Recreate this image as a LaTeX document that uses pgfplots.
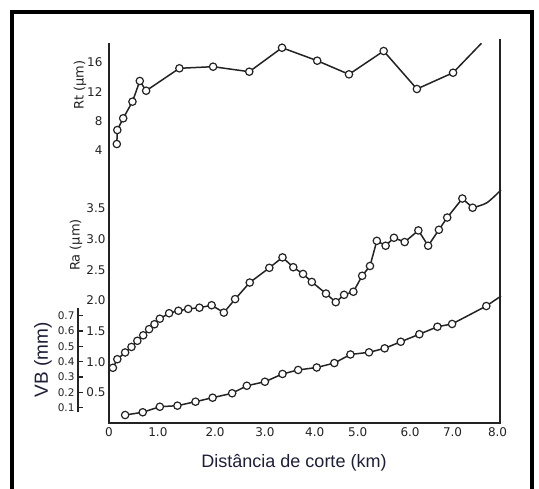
\documentclass[border=0pt]{standalone}
\usepackage{pgfplots}
\pgfplotsset{compat=1.18}
\usepackage{fontspec}
\setmainfont{DejaVu Sans}
\newfontfamily\arial{Liberation Sans}
\definecolor{ink}{RGB}{35,35,35}
\definecolor{navy}{RGB}{30,30,55}

\pgfplotsset{
  layer/.style={at={(109pt,66pt)}, anchor=south west, scale only axis,
    width=391pt, height=380pt, xmin=0, xmax=8, clip=false,
    axis line style={draw=none}, major tick length=0pt, xtick=\empty,
    ticklabel style={font=\fontsize{12}{14}\selectfont, text=ink}},
  series/.style={ink, line width=1.5pt, mark=*, mark size=3.7pt,
    mark options={fill=white, draw=ink, line width=1.2pt, solid}},
  tail/.style={ink, line width=1.5pt, no marks},
}

\begin{document}
\begin{tikzpicture}
\path (0,0) rectangle (539pt,489pt);
% moldura
\draw[line width=4pt, black] (12pt,-4pt) -- (12pt,477pt) -- (532pt,477pt) -- (532pt,-4pt);

% eixo principal (distancia)
\begin{axis}[layer, ymin=0, ymax=1, ytick=\empty,
  xtick={0,1.00,2.17,3.19,4.21,5.09,6.16,7.03,7.95},
  xticklabels={0,1.0,2.0,3.0,4.0,5.0,6.0,7.0,8.0},
  xticklabel style={yshift=-1pt}]
\draw[ink, line width=2pt] (rel axis cs:0,1) -- (rel axis cs:0,0) -- (rel axis cs:1,0) -- (rel axis cs:1,1.01);
\end{axis}

% Rt
\begin{axis}[layer, ymin=-33.45, ymax=18.68, ytick={4,8,12,16},
  yticklabels={4,8,12,16}, yticklabel style={xshift=-3pt}]
\addplot[tail] coordinates {(7.04,14.60) (7.62,18.64)};
\addplot[series] coordinates {
  (0.16,4.82) (0.17,6.74) (0.29,8.35) (0.48,10.63) (0.63,13.47) (0.76,12.13)
  (1.44,15.21) (2.13,15.43) (2.87,14.74) (3.54,18.03) (4.26,16.25) (4.91,14.38)
  (5.62,17.58) (6.30,12.37) (7.04,14.60)
};
\end{axis}

% Ra
\begin{axis}[layer, ymin=0, ymax=6.196, ytick={0.5,1,1.5,2,2.5,3,3.5},
  yticklabels={0.5,1.0,1.5,2.0,2.5,3.0,3.5}, yticklabel style={xshift=0pt}]
\addplot[tail, smooth] coordinates {(7.44,3.51) (7.73,3.59) (8.02,3.80)};
\addplot[series] coordinates {
  (0.08,0.90) (0.17,1.04) (0.33,1.15) (0.46,1.24) (0.58,1.34) (0.70,1.43)
  (0.82,1.53) (0.93,1.61) (1.04,1.70) (1.23,1.79) (1.42,1.83) (1.62,1.86)
  (1.85,1.88) (2.10,1.92) (2.35,1.80) (2.58,2.02) (2.88,2.29) (3.28,2.53)
  (3.55,2.70) (3.77,2.54) (3.97,2.43) (4.15,2.30) (4.44,2.11) (4.64,1.97)
  (4.81,2.09) (5.00,2.14) (5.18,2.40) (5.34,2.56) (5.48,2.97) (5.66,2.89)
  (5.83,3.02) (6.05,2.95) (6.33,3.14) (6.53,2.89) (6.75,3.15) (6.92,3.35)
  (7.23,3.66) (7.44,3.51)
};
\end{axis}

% VB
\begin{axis}[layer, ymin=0, ymax=2.479, ytick=\empty]
\addplot[tail] coordinates {(7.72,0.763) (8.02,0.828)};
\addplot[series] coordinates {
  (0.33,0.052) (0.69,0.070) (1.04,0.106) (1.40,0.113) (1.77,0.139) (2.12,0.165)
  (2.52,0.194) (2.82,0.243) (3.19,0.269) (3.55,0.320) (3.87,0.346) (4.25,0.362)
  (4.61,0.391) (4.94,0.447) (5.32,0.461) (5.64,0.487) (5.97,0.530) (6.35,0.579)
  (6.72,0.628) (7.02,0.646) (7.72,0.763)
};
\end{axis}

% escala de VB
\begin{axis}[at={(78pt,77pt)}, anchor=south west, scale only axis,
  width=1pt, height=104pt, xmin=0, xmax=1, ymin=0.072, ymax=0.750,
  axis y line=left, axis x line=none, xtick=\empty,
  ytick={0.1,0.2,0.3,0.4,0.5,0.6,0.7},
  yticklabels={0.1,0.2,0.3,0.4,0.5,0.6,0.7},
  tick align=inside, major tick length=5pt,
  tick style={ink, line width=1.2pt},
  axis line style={ink, line width=1.8pt, -},
  ticklabel style={font=\fontsize{10.5}{12}\selectfont, text=ink}]
\end{axis}

\node[rotate=90, font=\fontsize{13}{15}\selectfont, text=ink] at (80pt,404pt) {Rt (µm)};
\node[rotate=90, font=\fontsize{13}{15}\selectfont, text=ink] at (76pt,244pt) {Ra (µm)};
\node[rotate=90, font=\arial\fontsize{19}{21}\selectfont, text=navy] at (43pt,129pt) {VB (mm)};
\node[font=\arial\fontsize{18}{20}\selectfont, text=navy] at (294pt,26pt) {Distância de corte (km)};

\pgfresetboundingbox
\path[use as bounding box] (0,0) rectangle (539pt,489pt);
\end{tikzpicture}
\end{document}
